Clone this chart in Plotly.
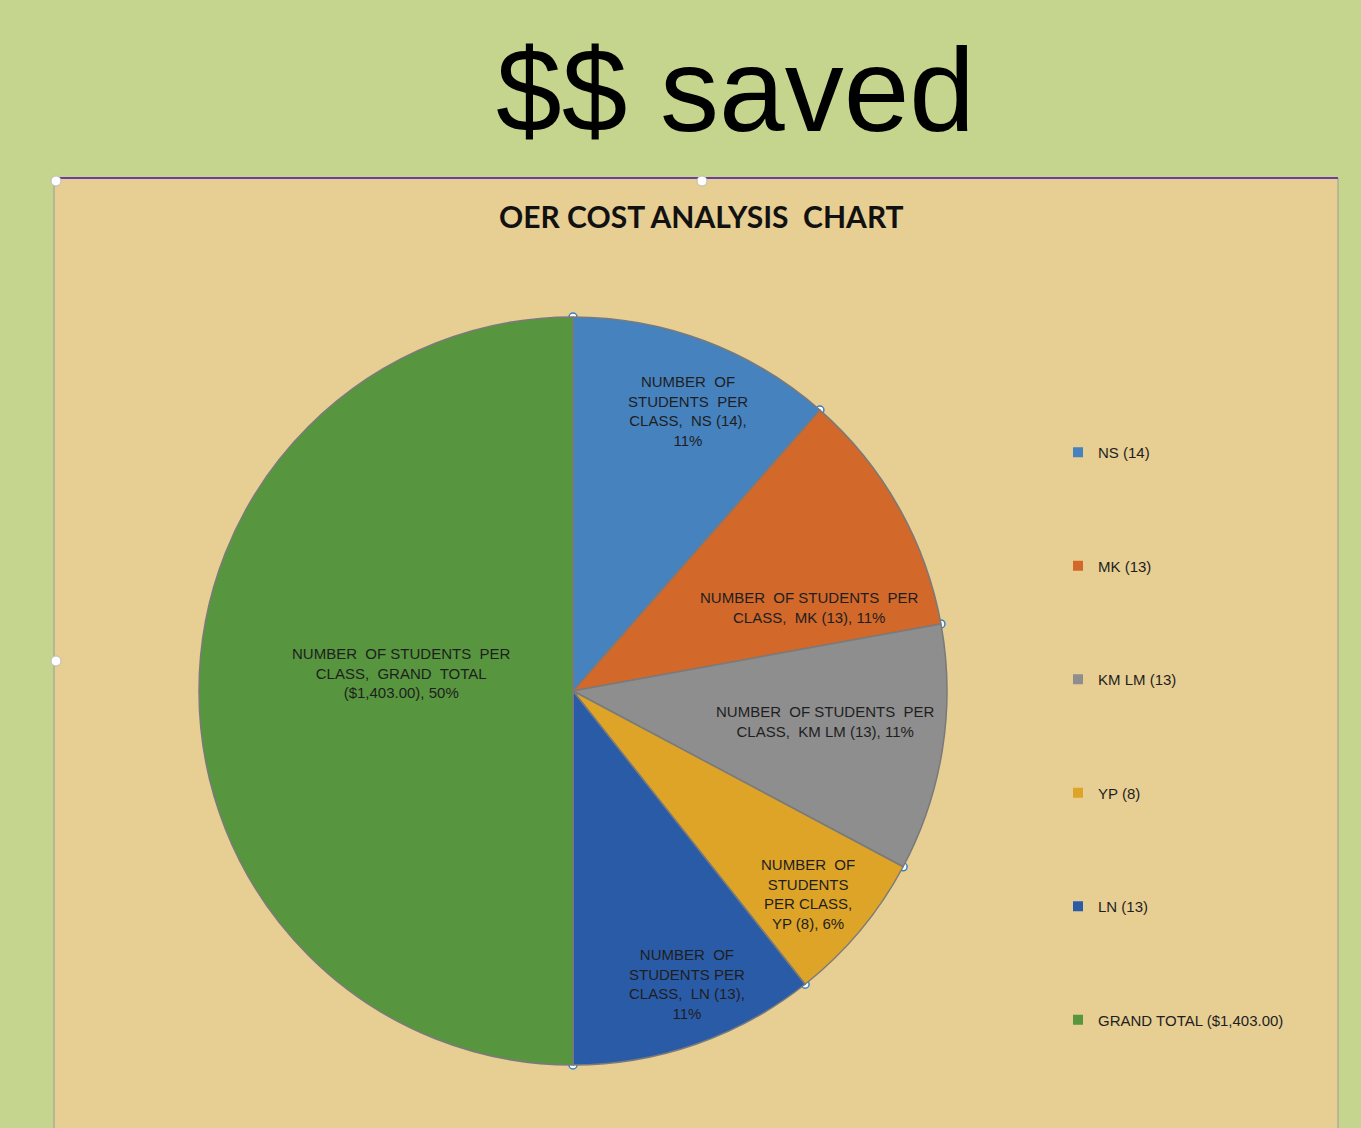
import math
import plotly.graph_objects as go

# ---- data ----
categories = ["NS (14)", "MK (13)", "KM LM (13)", "YP (8)", "LN (13)", "GRAND TOTAL ($1,403.00)"]
values = [14, 13, 13, 8, 13, 61]
percent_labels = ["11%", "11%", "11%", "6%", "11%", "50%"]
slice_labels = [
    "NUMBER  OF<br>STUDENTS  PER<br>CLASS,  NS (14),<br>11%",
    "NUMBER  OF STUDENTS  PER<br>CLASS,  MK (13), 11%",
    "NUMBER  OF STUDENTS  PER<br>CLASS,  KM LM (13), 11%",
    "NUMBER  OF<br>STUDENTS<br>PER CLASS,<br>YP (8), 6%",
    "NUMBER  OF<br>STUDENTS PER<br>CLASS,  LN (13),<br>11%",
    "NUMBER  OF STUDENTS  PER<br>CLASS,  GRAND  TOTAL<br>($1,403.00), 50%",
]
main_title = "$$ saved"
chart_title = "OER COST ANALYSIS  CHART"

# ---- style ----
colors = ["#4682BE", "#D2682A", "#8E8E8E", "#DDA427", "#2A5BA7", "#57953F"]
W, H = 1361, 1128
CX, CY, R = 573, 691, 374          # pie centre / radius in pixels
label_radius = [0.81, 0.67, 0.68, 0.83, 0.84, 0.46]
label_angle_shift = [1.6, 10, -2, 1, -2, 6]   # degrees
label_font = dict(family="Liberation Sans, Arial", size=15, color="#1e1e1e")

fig = go.Figure()

fig.add_trace(go.Pie(
    values=values,
    labels=categories,
    sort=False,
    direction="clockwise",
    rotation=0,
    marker=dict(colors=colors, line=dict(color="#7a7a7a", width=1.5)),
    textinfo="none",
    hoverinfo="label+value+percent",
    showlegend=False,
    domain=dict(x=[(CX - R) / W, (CX + R) / W], y=[1 - (CY + R) / H, 1 - (CY - R) / H]),
))

# legend entries (dummy traces so each gets its own spacing group)
for i, (cat, col) in enumerate(zip(categories, colors)):
    fig.add_trace(go.Scatter(
        x=[None], y=[None], mode="markers", name=cat,
        marker=dict(symbol="square", size=10, color=col),
        legendgroup=f"g{i}", showlegend=True,
    ))

# slice-boundary handle points, derived from cumulative values
total = sum(values)
cum = 0
hx, hy = [CX], [CY]
mids = []
for v in values:
    a0 = cum / total * 2 * math.pi
    cum += v
    a1 = cum / total * 2 * math.pi
    mids.append((a0 + a1) / 2)
    hx.append(CX + R * math.sin(a0))
    hy.append(CY - R * math.cos(a0))
fig.add_trace(go.Scatter(
    x=hx, y=hy, mode="markers", showlegend=False, hoverinfo="skip",
    marker=dict(symbol="circle", size=8, color="white", line=dict(color="#3a7fc4", width=1.5)),
))

# slice labels
annotations = []
for text, ang, rf, sh in zip(slice_labels, mids, label_radius, label_angle_shift):
    a = ang + math.radians(sh)
    px = CX + rf * R * math.sin(a)
    py = CY - rf * R * math.cos(a)
    annotations.append(dict(
        x=px / W, y=1 - py / H, xref="paper", yref="paper",
        text=text, showarrow=False, font=label_font, align="center",
        xanchor="center", yanchor="middle",
    ))

annotations.append(dict(
    x=735 / W, y=1 - 90 / H, xref="paper", yref="paper", text=main_title,
    showarrow=False, font=dict(family="Liberation Sans, Arial", size=118, color="black"),
    xanchor="center", yanchor="middle",
))
annotations.append(dict(
    x=701 / W, y=1 - 216 / H, xref="paper", yref="paper", text="<b>" + chart_title + "</b>",
    showarrow=False, font=dict(family="Lato, Open Sans", size=30, color="#111111"),
    xanchor="center", yanchor="middle",
))

shapes = [
    dict(type="rect", xref="paper", yref="paper", x0=54 / W, x1=1338 / W, y0=-0.01, y1=1 - 178 / H,
         fillcolor="#E7CE93", line=dict(color="#9a9a9a", width=1), layer="below"),
    dict(type="line", xref="paper", yref="paper", x0=54 / W, x1=1338 / W, y0=1 - 178 / H, y1=1 - 178 / H,
         line=dict(color="#6B3FA0", width=2), layer="below"),
]
for (hxp, hyp) in [(56, 181), (702, 181), (56, 661)]:
    shapes.append(dict(type="circle", xref="paper", yref="paper",
                       x0=(hxp - 5) / W, x1=(hxp + 5) / W, y0=1 - (hyp + 5) / H, y1=1 - (hyp - 5) / H,
                       fillcolor="white", line=dict(color="#bbbbbb", width=1), layer="above"))

fig.update_layout(
    width=W, height=H,
    margin=dict(l=0, r=0, t=0, b=0),
    paper_bgcolor="#C5D58D",
    plot_bgcolor="rgba(0,0,0,0)",
    xaxis=dict(visible=False, range=[0, W], domain=[0, 1], fixedrange=True),
    yaxis=dict(visible=False, range=[H, 0], domain=[0, 1], fixedrange=True),
    showlegend=True,
    legend=dict(
        x=1058 / W, y=1 - 436 / H, xanchor="left", yanchor="top",
        bgcolor="rgba(0,0,0,0)", tracegroupgap=91,
        font=dict(family="Liberation Sans, Arial", size=15, color="#1e1e1e"),
        itemwidth=30,
    ),
    annotations=annotations,
    shapes=shapes,
)

fig.write_html("out.html", config={"displayModeBar": False},
               post_script="document.body.style.margin='0px';")
